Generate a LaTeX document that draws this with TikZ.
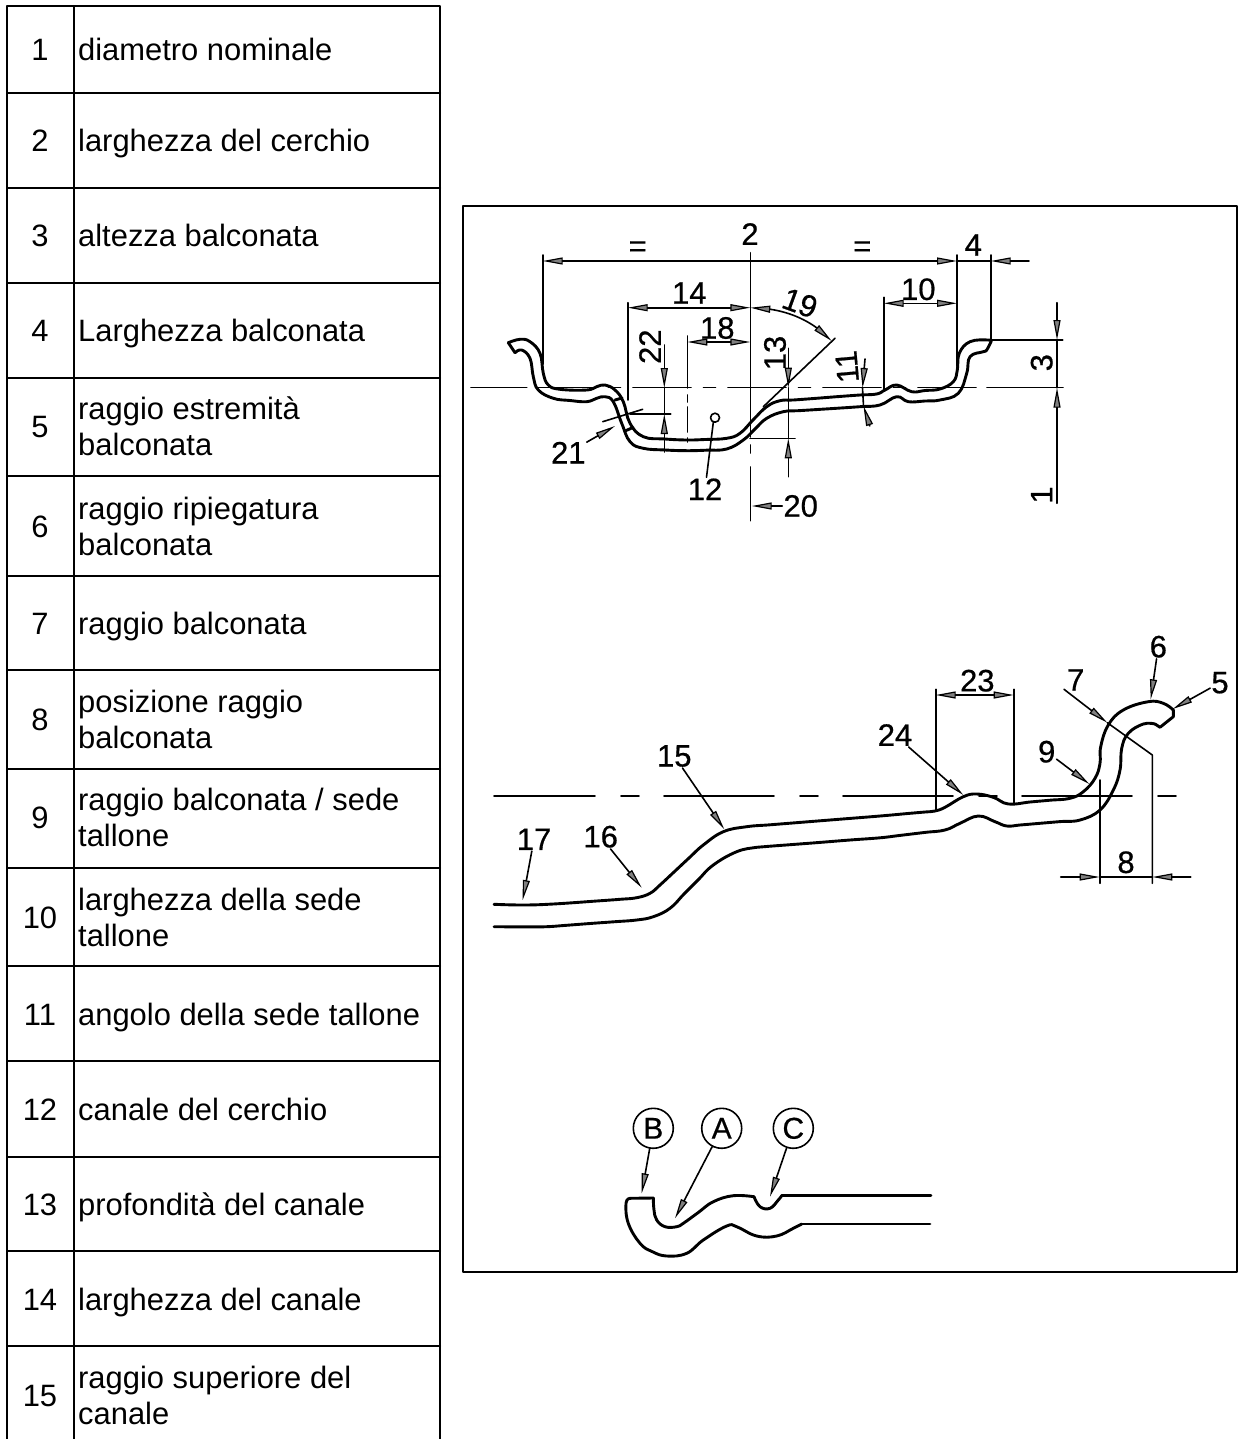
\documentclass[tikz,border=0pt]{standalone}
\usepackage{fontspec}
\setmainfont{Liberation Sans}
\newfontfamily\isofont[FakeBold=0.6]{Liberation Sans}
\usetikzlibrary{arrows.meta,bending}

\tikzset{
  tablerule/.style={line width=2pt},
  numcell/.style={font=\fontsize{30.9}{36}\selectfont, inner sep=0pt},
  txtcell/.style={font=\fontsize{30.9}{36}\selectfont, anchor=west, align=left, inner sep=0pt, yshift=-3.5pt},
  profile/.style={line width=2.9pt},
  fineline/.style={line width=1.6pt},
  dimtip/.tip={Triangle[length=20pt,width=7pt,line width=1.2pt,fill=gray]},
  dimlabel/.style={font=\isofont\fontsize{31}{31}\selectfont, inner sep=1pt},
  balloon/.style={circle, draw, line width=1.6pt, minimum size=40pt, inner sep=0pt,
                  font=\isofont\fontsize{30}{30}\selectfont},
}

\begin{document}
\begin{tikzpicture}[x=1pt, y=-1pt, line join = round, line cap = round]

  \useasboundingbox (0,0) rectangle (1257,1439);

  % table-rules
  \draw[tablerule] (7,1439) -- (7,6) -- (440,6) -- (440,1439);
  \draw[tablerule] (74,6) -- (74,1439);
  \draw[tablerule] (7,93) -- (440,93);
  \draw[tablerule] (7,188) -- (440,188);
  \draw[tablerule] (7,283) -- (440,283);
  \draw[tablerule] (7,378) -- (440,378);
  \draw[tablerule] (7,476) -- (440,476);
  \draw[tablerule] (7,576) -- (440,576);
  \draw[tablerule] (7,670) -- (440,670);
  \draw[tablerule] (7,769) -- (440,769);
  \draw[tablerule] (7,868) -- (440,868);
  \draw[tablerule] (7,966) -- (440,966);
  \draw[tablerule] (7,1061) -- (440,1061);
  \draw[tablerule] (7,1157) -- (440,1157);
  \draw[tablerule] (7,1251) -- (440,1251);
  \draw[tablerule] (7,1346) -- (440,1346);

  % table-text
  \node[numcell] (num1) at (40,49.5) {1};
  \node[txtcell] (txt1) at (78,49.5) {diametro nominale\strut};
  \node[numcell] (num2) at (40,141) {2};
  \node[txtcell] (txt2) at (78,141) {larghezza del cerchio\strut};
  \node[numcell] (num3) at (40,236) {3};
  \node[txtcell] (txt3) at (78,236) {altezza balconata\strut};
  \node[numcell] (num4) at (40,331) {4};
  \node[txtcell] (txt4) at (78,331) {Larghezza balconata\strut};
  \node[numcell] (num5) at (40,427) {5};
  \node[txtcell] (txt5) at (78,427) {raggio estremità\strut\\balconata\strut};
  \node[numcell] (num6) at (40,526.5) {6};
  \node[txtcell] (txt6) at (78,526.5) {raggio ripiegatura\strut\\balconata\strut};
  \node[numcell] (num7) at (40,624) {7};
  \node[txtcell] (txt7) at (78,624) {raggio balconata\strut};
  \node[numcell] (num8) at (40,720) {8};
  \node[txtcell] (txt8) at (78,720) {posizione raggio\strut\\balconata\strut};
  \node[numcell] (num9) at (40,818) {9};
  \node[txtcell] (txt9) at (78,818) {raggio balconata / sede\strut\\tallone\strut};
  \node[numcell] (num10) at (40,918) {10};
  \node[txtcell] (txt10) at (78,918) {larghezza della sede\strut\\tallone\strut};
  \node[numcell] (num11) at (40,1015) {11};
  \node[txtcell] (txt11) at (78,1015) {angolo della sede tallone\strut};
  \node[numcell] (num12) at (40,1110) {12};
  \node[txtcell] (txt12) at (78,1110) {canale del cerchio\strut};
  \node[numcell] (num13) at (40,1205) {13};
  \node[txtcell] (txt13) at (78,1205) {profondità del canale\strut};
  \node[numcell] (num14) at (40,1300) {14};
  \node[txtcell] (txt14) at (78,1300) {larghezza del canale\strut};
  \node[numcell] (num15) at (40,1396) {15};
  \node[txtcell] (txt15) at (78,1396) {raggio superiore del\strut\\canale\strut};

  % frame
  \draw[tablerule] (463,206) rectangle (1237,1272);

  % first-profile
  \draw[profile] plot[smooth, tension=.7] coordinates {(508.3,342.7) (520,339.3) (530,341.7) (540,353.3)
    (543.3,373.3) (548.3,385) (560,389.3) (586.7,390) (596.7,386.7) (605,385) (615,390) (623.3,401.7)
    (630,423.3) (643.3,436.7) (665,439) (686.7,440) (705,439.5) (726.7,438.3) (740,433.3) (753,420)
    (766.7,406.7) (780,400.7) (793.3,400) (815,398.4) (838,396.6) (860,395) (876.7,394) (885,390)
    (896.7,385) (911.7,391.7) (925,390.5) (940,389) (953.3,381.7) (957.3,370)
    (959.3,353.3) (970,341.7) (988.3,340) (991,341.7)};
  \draw[profile] (508.3,342.7) -- (515,352.7);
  \draw[profile] plot[smooth, tension=.7] coordinates {(515,352.7) (521.7,350) (530,358.3)
    (533.3,376.7) (538.3,390) (553.3,398.3) (570,400.5) (586.7,401.7) (596.7,398.3) (605,396.7) (613.3,401.7)
    (621.7,423.3) (630,441.7) (643.3,448.3) (665,450) (686.7,450.7) (706,450.2) (726.7,449) (743.3,440)
    (755,429) (766.7,418.3) (783.3,411.7) (800,410.6) (830,408.7) (860,406.7) (880,405) (896.7,396.7)
    (908.3,401.7) (925,401) (940,400) (958.3,393.3) (966.7,373.3)
    (970,356.7) (983.3,351.7) (986.7,350) (991,341.7)};
  \draw[profile] (615,400) -- (622,398);
  \draw[profile] (625,431) -- (633,427.5);

  % first-axes
  \draw[fineline] (471,387.5) -- (526.7,387.5);
  \draw[fineline, dash pattern=on 58pt off 12.5pt on 12pt off 12.5pt] (538,387.5) -- (976,387.5);
  \draw[fineline] (987,387.5) -- (1063,387.5);
  \draw[fineline] (750.3,252.7) -- (750.3,437);
  \draw[fineline] (750.3,445) -- (750.3,453);
  \draw[fineline] (750.3,467) -- (750.3,520.7);
  \draw[fineline] (687.3,336) -- (687.3,388);
  \draw[fineline] (687.3,395) -- (687.3,402);
  \draw[fineline] (687.3,407) -- (687.3,432);
  \draw[fineline] (687.3,438) -- (687.3,442);

  % first-extension-lines
  \draw[fineline] (542.7,255) -- (542.7,364);
  \draw[fineline] (627.7,302.7) -- (627.7,400);
  \draw[fineline] (883.7,297.3) -- (883.7,390);
  \draw[fineline] (957,255) -- (957,366);
  \draw[fineline] (990.7,255) -- (990.7,340);
  \draw[fineline] (991,340) -- (1062.7,340);
  \draw[fineline] (630,414) -- (670.7,414);
  \draw[fineline] (750,438.3) -- (795,438.3);
  \draw[fineline] (602.7,421.7) -- (642.7,409.3);
  \draw[fineline] (763.3,406.7) -- (835,338.3);

  % first-dimensions
  \coordinate (over-l) at (542.7,261);
  \coordinate (over-m) at (957,261);
  \coordinate (over-r) at (990.7,261);
  \coordinate (over-e) at (1029,261);
  \draw[fineline, {dimtip}-{dimtip}] (over-l) -- (over-m);
  \draw[fineline] (over-m) -- (over-r);
  \draw[fineline, -{dimtip}] (over-e) -- (over-r);
  \draw[fineline, {dimtip}-{dimtip}] (627.7,307.7) -- (750.3,307.7);
  \draw[fineline, {dimtip}-{dimtip}] (687.3,342) -- (750.3,342);
  \draw[fineline, {dimtip}-{dimtip}] (883.7,303.3) -- (957,303.3);
  \draw[fineline, {dimtip[flex]}-{dimtip[flex]}] (750.3,307.7) .. controls (785,308) and (812,320) .. (831.7,341);
  \draw[fineline, -{dimtip}] (664.3,345) -- (664.3,388);
  \draw[fineline] (664.3,388) -- (664.3,414);
  \draw[fineline, -{dimtip}] (664.3,452) -- (664.3,414);
  \draw[fineline, -{dimtip}] (788.3,348.3) -- (788.3,387.7);
  \draw[fineline] (788.3,387.7) -- (788.3,438.3);
  \draw[fineline, -{dimtip}] (788.3,476.7) -- (788.3,438.3);
  \draw[fineline, -{dimtip}] (1057,302.7) -- (1057,340);
  \draw[fineline] (1057,340) -- (1057,387.7);
  \draw[fineline, -{dimtip}] (1057,503.3) -- (1057,387.7);
  \draw[fineline, -{dimtip}] (865,359) -- (862.5,388);
  \draw[fineline] (862.5,388) -- (863.5,406);
  \draw[fineline, -{dimtip}] (868.3,423.3) .. controls (865,417) and (864,412) .. (863.5,406);

  % first-labels
  \node[dimlabel] (lbl2) at (750,234) {2};
  \node[dimlabel] (eqleft) at (637.7,249) {=};
  \node[dimlabel] (eqright) at (862.3,249) {=};
  \node[dimlabel] (lbl4) at (973.3,245) {4};
  \node[dimlabel] (lbl14) at (689.3,293) {14};
  \node[dimlabel, rotate=-20] (lbl19) at (800,303) {19};
  \node[dimlabel] (lbl18) at (717.3,328) {18};
  \node[dimlabel] (lbl10) at (918.3,289.3) {10};
  \node[dimlabel, rotate=90] (lbl22) at (650,346.7) {22};
  \node[dimlabel, rotate=90] (lbl13) at (775,353) {13};
  \node[dimlabel, rotate=95] (lbl11) at (847,366.7) {11};
  \node[dimlabel, rotate=90] (lbl3) at (1041.7,362.7) {3};
  \node[dimlabel, rotate=90] (lbl1) at (1041.7,495) {1};
  \node[dimlabel] (lbl21) at (568.3,452.7) {21};
  \node[dimlabel] (lbl12) at (705,489.3) {12};
  \node[dimlabel] (lbl20) at (800.7,506) {20};

  % first-leaders
  \coordinate (tip21) at (615,426);
  \coordinate (tip12) at (713.3,422.3);
  \coordinate (tip20) at (751.7,506);
  \draw[fineline, -{dimtip}] (lbl21) -- (tip21);
  \draw[fineline] (lbl12) -- (tip12);
  \draw[fineline] (715,417.7) circle [radius=4.5];
  \draw[fineline, -{dimtip}] (lbl20) -- (tip20);

  % second-profile
  \draw[profile] plot[smooth, tension=.7] coordinates {(494,904.3) (523.3,905) (553.3,904) (596.7,901)
    (620,899.3) (636.7,897.7) (650,893.3) (660,885) (674,872) (689,858) (703.3,845) (723.3,831.7)
    (746.7,826.7) (770,824.8) (800,822.4) (840,819.2) (880,816) (910,813.3) (925,812) (935,811)
    (945,807.3) (963.3,796.7) (976.7,794) (993.3,797.3) (1008.3,804) (1030,802) (1050,800.2) (1070,798.3)
    (1083.3,791.7) (1095,778.3) (1100,763.3) (1100.7,746.7) (1108.3,725) (1123.3,710) (1148.3,701.7)
    (1163.3,703.3) (1173.3,710)};
  \draw[profile] (1173.3,710) -- (1173.3,716.7) -- (1160,727.3) -- (1155,724);
  \draw[profile] plot[smooth, tension=.7] coordinates {(1155,724) (1143.3,724) (1128.3,733.3)
    (1121.7,748.3) (1120,770) (1113.3,790) (1100,810) (1080,820) (1060,821.6) (1040,823.3) (1020,825)
    (1006.7,826) (995,821.7) (978.3,816) (960,823.3) (945,830) (925,832.4) (900,835.4) (880,837.8)
    (850,840) (820,842.4) (790,844.7) (770,846.2) (756.7,847.3) (736.7,851.7) (713.3,865) (698,880)
    (684,894) (670,908.3) (653.3,916.7) (636.7,920) (615,921.7) (590,923.5) (565,925.4) (546.7,926.7)
    (525,926.9) (494,926.7)};

  % second-axis
  \draw[fineline, dash pattern=on 110pt off 26pt on 18pt off 25pt, dash phase=9pt] (494,796) -- (1176,796);

  % second-dimensions
  \draw[fineline] (935.7,689.3) -- (935.7,811);
  \draw[fineline] (1013.7,689.3) -- (1013.7,804);
  \draw[fineline, {dimtip}-{dimtip}] (935.7,695) -- (1013.7,695);
  \coordinate (seven-a) at (1064,689.3);
  \coordinate (seven-b) at (1107.3,722.7);
  \coordinate (seven-c) at (1152.3,755);
  \draw[fineline, -{dimtip}] (seven-a) -- (seven-b);
  \draw[fineline] (seven-b) -- (seven-c) -- (1152.3,883.3);
  \draw[fineline] (1099.7,780) -- (1099.7,883.3);
  \draw[fineline, -{dimtip}] (1060.7,877) -- (1099.7,877);
  \draw[fineline, -{dimtip}] (1190.7,877) -- (1152.3,877);
  \draw[fineline] (1099.7,877) -- (1152.3,877);

  % second-labels
  \node[dimlabel] (lbl23) at (977.3,680.7) {23};
  \node[dimlabel] (lbl24) at (895,735) {24};
  \node[dimlabel] (lbl9) at (1046.7,751.7) {9};
  \node[dimlabel] (lbl7) at (1075.7,680) {7};
  \node[dimlabel] (lbl8) at (1126,862.3) {8};
  \node[dimlabel] (lbl6) at (1158.3,646.7) {6};
  \node[dimlabel] (lbl5) at (1220,682.7) {5};
  \node[dimlabel] (lbl15) at (674.3,756) {15};
  \node[dimlabel] (lbl16) at (600.7,836.7) {16};
  \node[dimlabel] (lbl17) at (534,839.3) {17};

  % second-leaders
  \coordinate (tip24) at (963.3,795);
  \coordinate (tip9) at (1089.3,784);
  \coordinate (tip6) at (1150.7,699.3);
  \coordinate (tip5) at (1172.7,709);
  \coordinate (tip15) at (724.3,829.3);
  \coordinate (tip16) at (641.7,887.7);
  \coordinate (tip17) at (522.7,900);
  \draw[fineline, -{dimtip}] (lbl24) -- (tip24);
  \draw[fineline, -{dimtip}] (lbl9) -- (tip9);
  \draw[fineline, -{dimtip}] (lbl6) -- (tip6);
  \draw[fineline, -{dimtip}] (lbl5) -- (tip5);
  \draw[fineline, -{dimtip}] (lbl15) -- (tip15);
  \draw[fineline, -{dimtip}] (lbl16) -- (tip16);
  \draw[fineline, -{dimtip}] (lbl17) -- (tip17);

  % third-profile
  \draw[profile] (931,1195.7) -- (781.7,1195.7);
  \draw[profile] plot[smooth, tension=.7] coordinates {(781.7,1195.7) (778.3,1200) (770,1208.3)
    (760,1206.7) (754,1196.7)};
  \draw[profile] plot[smooth, tension=.7] coordinates {(754,1196.7) (733.3,1195.7) (713.3,1201.7)
    (698,1212.7) (683.3,1223.3) (676.7,1226.7) (665,1226.7) (656.7,1220) (654,1210) (653.3,1198)};
  \draw[profile] (653.3,1198) -- (630,1198.3);
  \draw[profile] plot[smooth, tension=.7] coordinates {(630,1198.3) (626,1203.3) (628.3,1223.3)
    (640,1243.3) (652,1251.5) (666.7,1256) (686.7,1253.3) (703.3,1240) (726.7,1226) (736.7,1226.7)
    (756.7,1236) (776.7,1236) (793.3,1228.3) (801.7,1224)};
  \draw[profile] (801.7,1224) -- (930,1224);

  % third-balloons
  \node[balloon] (ballB) at (653.3,1128.3) {B};
  \node[balloon] (ballA) at (721.7,1128.3) {A};
  \node[balloon] (ballC) at (793.3,1128.3) {C};
  \coordinate (tipB) at (641.7,1193.3);
  \coordinate (tipA) at (675,1218.3);
  \coordinate (tipC) at (770,1196.7);
  \draw[fineline, -{dimtip}] (ballB) -- (tipB);
  \draw[fineline, -{dimtip}] (ballA) -- (tipA);
  \draw[fineline, -{dimtip}] (ballC) -- (tipC);

\end{tikzpicture}
\end{document}
